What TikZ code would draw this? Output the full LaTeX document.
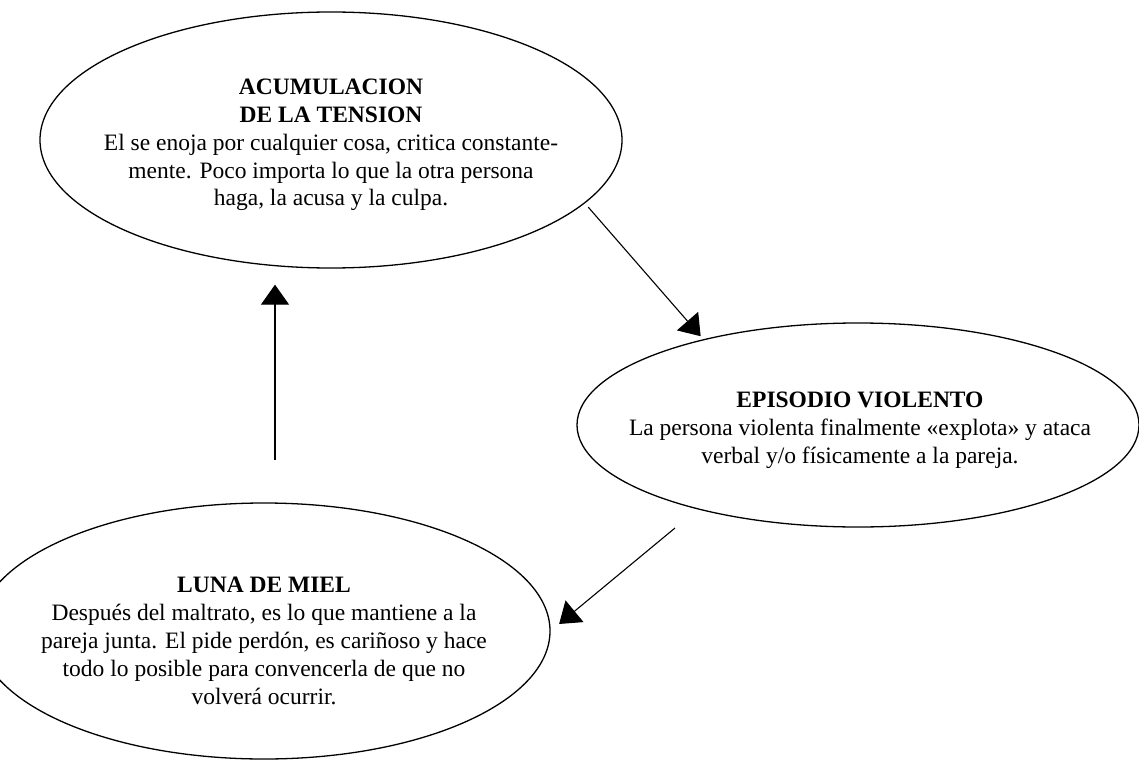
\documentclass[tikz,border=0pt]{standalone}
\usepackage{fontspec}
\setmainfont{Liberation Serif}
\usetikzlibrary{arrows.meta, shapes.geometric}

\tikzset{
	fase/.style = {draw, ellipse, line width = 1.3pt, inner sep = 0pt},
	texto/.style = {align = center, font = \fontsize{23.5}{27.8}\selectfont, inner sep = 0pt},
	flecha/.style = {->, line width = 1.1pt}
}

\begin{document}
\begin{tikzpicture}[x = 1pt, y = -1pt, > = {Triangle[length = 20pt, width = 28pt]}]

	% Page frame
	
	\useasboundingbox (0, 0) rectangle (1139, 762);
	\clip (0, 0) rectangle (1139, 762);
	
	% Phase ellipses
	
	\node [fase, minimum width = 582pt, minimum height = 256pt] (acum) at (331, 140) {};
	\node [fase, minimum width = 562pt, minimum height = 204pt] (violento) at (858, 425) {};
	\node [fase, minimum width = 572pt, minimum height = 256pt] (luna) at (264, 631) {};
	
	% Texts inside the ellipses
	
	\node [texto] (acumtexto) at (331, 145) {\textbf{ACUMULACION}\\ \textbf{DE LA TENSION}\\ El se enoja por cualquier cosa, critica constante-\\ mente. Poco importa lo que la otra persona\\ haga, la acusa y la culpa.};
	\node [texto] (violentotexto) at (860, 430) {\textbf{EPISODIO VIOLENTO}\\ La persona violenta finalmente «explota» y ataca\\ verbal y/o físicamente a la pareja.};
	\node [texto] (lunatexto) at (264, 641) {\textbf{LUNA DE MIEL}\\ Después del maltrato, es lo que mantiene a la\\ pareja junta. El pide perdón, es cariñoso y hace\\ todo lo posible para convencerla de que no\\ volverá ocurrir.};
	
	% Cycle arrows
	
	\coordinate (salida) at (675, 528);
	\coordinate (retorno) at (275, 460);
	
	\draw [flecha, shorten < = 5pt, shorten > = 4pt] (acum.-14) -- (violento.151);
	\draw [flecha, shorten > = 11pt] (salida) -- (luna.0);
	\draw [flecha, shorten > = 16pt] (retorno) -- (retorno |- acum.south);

\end{tikzpicture}
\end{document}
